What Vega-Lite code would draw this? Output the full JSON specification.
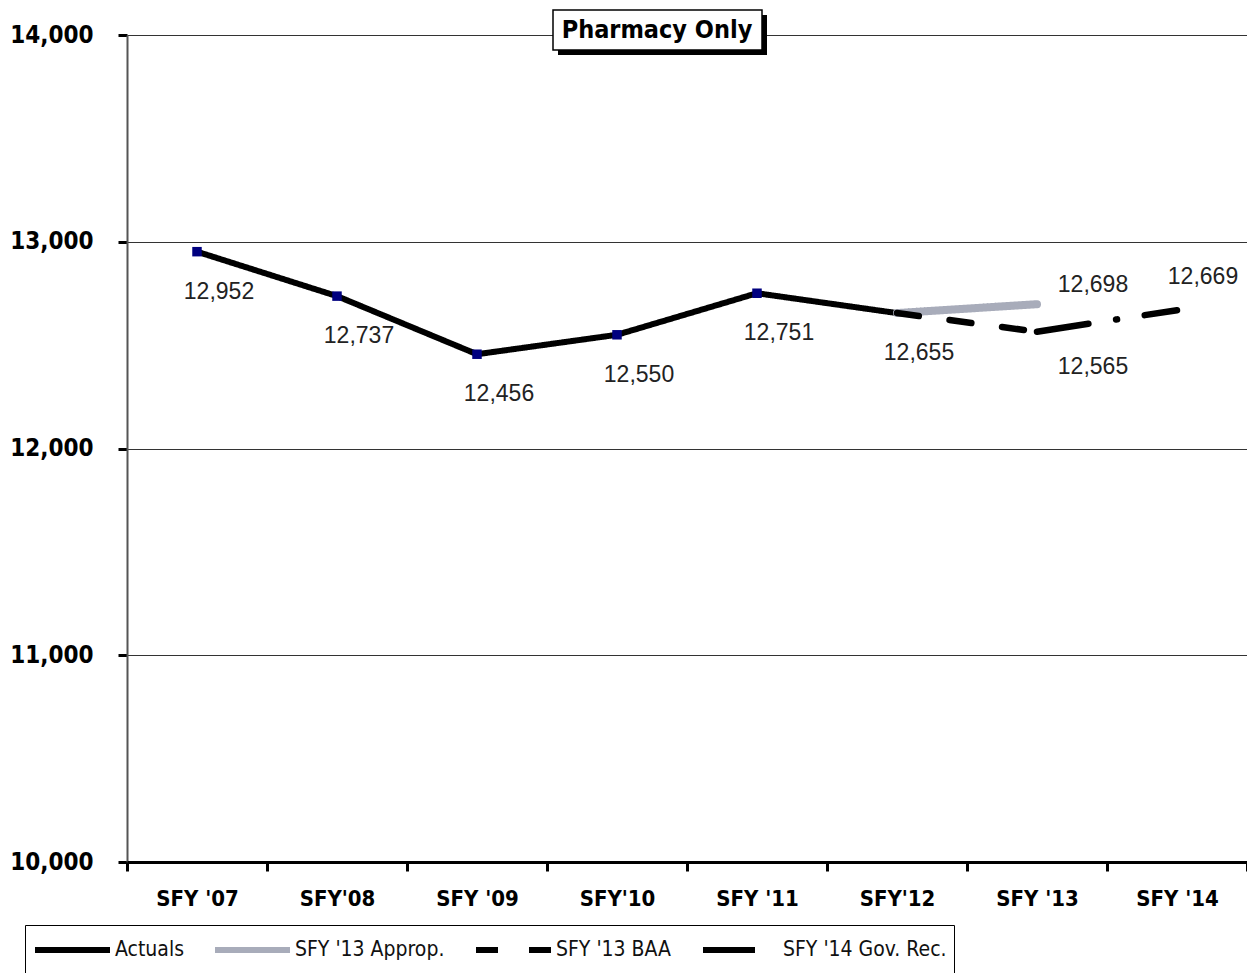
{
  "$schema": "https://vega.github.io/schema/vega-lite/v6.json",
  "width": 1120,
  "height": 827,
  "autosize": {"type": "none"},
  "padding": {"left": 127, "top": 35, "right": 0, "bottom": 111},
  "background": "white",
  "config": {
    "view": {"stroke": null},
    "legend": {
      "orient": "none",
      "legendX": -102,
      "legendY": 890,
      "direction": "horizontal",
      "strokeColor": "black",
      "padding": 7,
      "symbolType": "stroke",
      "symbolSize": 5625,
      "symbolStrokeWidth": 6,
      "labelFont": "Liberation Sans Narrow, DejaVu Sans Condensed, Liberation Sans, sans-serif",
      "labelFontSize": 21,
      "labelColor": "#111",
      "labelLimit": 400,
      "clipHeight": 36,
      "columnPadding": 28,
      "labelOffset": 2
    }
  },
  "data": {
    "values": [
      {"year": "SFY '07", "series": "Actuals", "value": 12952},
      {"year": "SFY'08", "series": "Actuals", "value": 12737},
      {"year": "SFY '09", "series": "Actuals", "value": 12456},
      {"year": "SFY'10", "series": "Actuals", "value": 12550},
      {"year": "SFY '11", "series": "Actuals", "value": 12751},
      {"year": "SFY'12", "series": "Actuals", "value": 12655},
      {"year": "SFY'12", "series": "SFY '13 Approp.", "value": 12655},
      {"year": "SFY '13", "series": "SFY '13 Approp.", "value": 12698},
      {"year": "SFY'12", "series": "SFY '13 BAA", "value": 12655},
      {"year": "SFY '13", "series": "SFY '13 BAA", "value": 12565},
      {"year": "SFY '13", "series": "SFY '14 Gov. Rec.", "value": 12565},
      {"year": "SFY '14", "series": "SFY '14 Gov. Rec.", "value": 12669}
    ]
  },
  "encoding": {
    "x": {
      "field": "year",
      "type": "nominal",
      "sort": null,
      "scale": {
        "type": "band",
        "domain": ["SFY '07", "SFY'08", "SFY '09", "SFY'10", "SFY '11", "SFY'12", "SFY '13", "SFY '14"],
        "paddingInner": 0,
        "paddingOuter": 0
      },
      "axis": {
        "title": null,
        "tickBand": "extent",
        "labelAngle": 0,
        "labelFont": "Liberation Sans Narrow, DejaVu Sans Condensed, Liberation Sans, sans-serif",
        "labelFontWeight": "bold",
        "labelFontSize": 22,
        "labelColor": "black",
        "labelPadding": 17,
        "tickSize": 9,
        "tickWidth": 3,
        "tickColor": "black",
        "domainColor": "black",
        "domainWidth": 3,
        "grid": false
      }
    },
    "y": {
      "field": "value",
      "type": "quantitative",
      "scale": {"domain": [10000, 14000], "nice": false, "zero": false},
      "axis": {
        "title": null,
        "values": [10000, 11000, 12000, 13000, 14000],
        "format": ",.0f",
        "labelFont": "Liberation Sans Narrow, DejaVu Sans Condensed, Liberation Sans, sans-serif",
        "labelFontWeight": "bold",
        "labelFontSize": 24,
        "labelColor": "black",
        "labelPadding": 25,
        "tickSize": 9,
        "tickWidth": 3,
        "tickColor": "black",
        "domainColor": "#555",
        "domainWidth": 2,
        "grid": true,
        "gridColor": "#333",
        "gridWidth": 1.2
      }
    }
  },
  "layer": [
    {
      "transform": [{"filter": "datum.series === 'Actuals' && datum.year === \"SFY'10\""}],
      "mark": {"type": "rect", "color": "black", "opacity": 1, "xOffset": -59, "x2Offset": 10, "yOffset": 5, "y2Offset": 5, "clip": false},
      "encoding": {
        "x2": {"datum": "SFY '11"},
        "y": {"datum": 14121},
        "y2": {"datum": 13927}
      }
    },
    {
      "transform": [{"filter": "datum.series === 'Actuals' && datum.year === \"SFY'10\""}],
      "mark": {"type": "rect", "fill": "white", "opacity": 1, "stroke": "black", "strokeWidth": 1.5, "xOffset": -64, "x2Offset": 5, "clip": false},
      "encoding": {
        "x2": {"datum": "SFY '11"},
        "y": {"datum": 14121},
        "y2": {"datum": 13927}
      }
    },
    {
      "transform": [{"filter": "datum.series === 'Actuals' && datum.year === \"SFY'10\""}],
      "mark": {"type": "text", "font": "Liberation Sans Narrow, DejaVu Sans Condensed, Liberation Sans, sans-serif", "fontWeight": "bold", "fontSize": 25, "color": "black", "baseline": "middle", "align": "center", "dx": 40, "clip": false},
      "encoding": {
        "y": {"datum": 14026},
        "text": {"value": "Pharmacy Only"}
      }
    },
    {
      "transform": [{"filter": "datum.series === 'Actuals'"}],
      "mark": {"type": "line", "strokeWidth": 6, "strokeJoin": "round"},
      "encoding": {
        "color": {
          "field": "series", "type": "nominal", "title": null,
          "scale": {"domain": ["Actuals", "SFY '13 Approp.", "SFY '13 BAA", "SFY '14 Gov. Rec."], "range": ["black", "#A8ACBA", "black", "black"]}
        },
        "strokeDash": {
          "field": "series", "type": "nominal", "title": null,
          "scale": {"domain": ["Actuals", "SFY '13 Approp.", "SFY '13 BAA", "SFY '14 Gov. Rec."], "range": [[1, 0], [1, 0], [22, 31], [52, 28, 1, 28]]}
        }
      }
    },
    {
      "transform": [{"filter": "datum.series === 'Actuals' && datum.year !== \"SFY'12\""}],
      "mark": {"type": "point", "shape": "square", "filled": true, "color": "#00007F", "size": 90, "opacity": 1}
    },
    {
      "transform": [{"filter": "datum.series === \"SFY '13 Approp.\""}],
      "mark": {"type": "line", "strokeWidth": 8, "strokeCap": "round"},
      "encoding": {
        "color": {"field": "series", "type": "nominal", "title": null},
        "strokeDash": {"field": "series", "type": "nominal", "title": null}
      }
    },
    {
      "transform": [{"filter": "datum.series === \"SFY '13 BAA\" || datum.series === \"SFY '14 Gov. Rec.\""}],
      "mark": {"type": "line", "strokeWidth": 6.5, "strokeCap": "round"},
      "encoding": {
        "color": {"field": "series", "type": "nominal", "title": null},
        "strokeDash": {"field": "series", "type": "nominal", "title": null}
      }
    },
    {
      "transform": [{"filter": "datum.series === 'Actuals'"}],
      "mark": {"type": "text", "font": "Liberation Sans", "fontSize": 23, "color": "#222", "dx": 22, "dy": 40, "baseline": "middle", "align": "center"},
      "encoding": {"text": {"field": "value", "type": "quantitative", "format": ","}}
    },
    {
      "transform": [{"filter": "datum.series === \"SFY '13 BAA\" && datum.year === \"SFY '13\""}],
      "mark": {"type": "text", "font": "Liberation Sans", "fontSize": 23, "color": "#222", "dx": 56, "dy": 35, "baseline": "middle", "align": "center"},
      "encoding": {"text": {"field": "value", "type": "quantitative", "format": ","}}
    },
    {
      "transform": [{"filter": "datum.series === \"SFY '13 Approp.\" && datum.year === \"SFY '13\""}],
      "mark": {"type": "text", "font": "Liberation Sans", "fontSize": 23, "color": "#222", "dx": 56, "dy": -19, "baseline": "middle", "align": "center"},
      "encoding": {"text": {"field": "value", "type": "quantitative", "format": ","}}
    },
    {
      "transform": [{"filter": "datum.series === \"SFY '14 Gov. Rec.\" && datum.year === \"SFY '14\""}],
      "mark": {"type": "text", "font": "Liberation Sans", "fontSize": 23, "color": "#222", "dx": 26, "dy": -33, "baseline": "middle", "align": "center"},
      "encoding": {"text": {"field": "value", "type": "quantitative", "format": ","}}
    }
  ]
}
